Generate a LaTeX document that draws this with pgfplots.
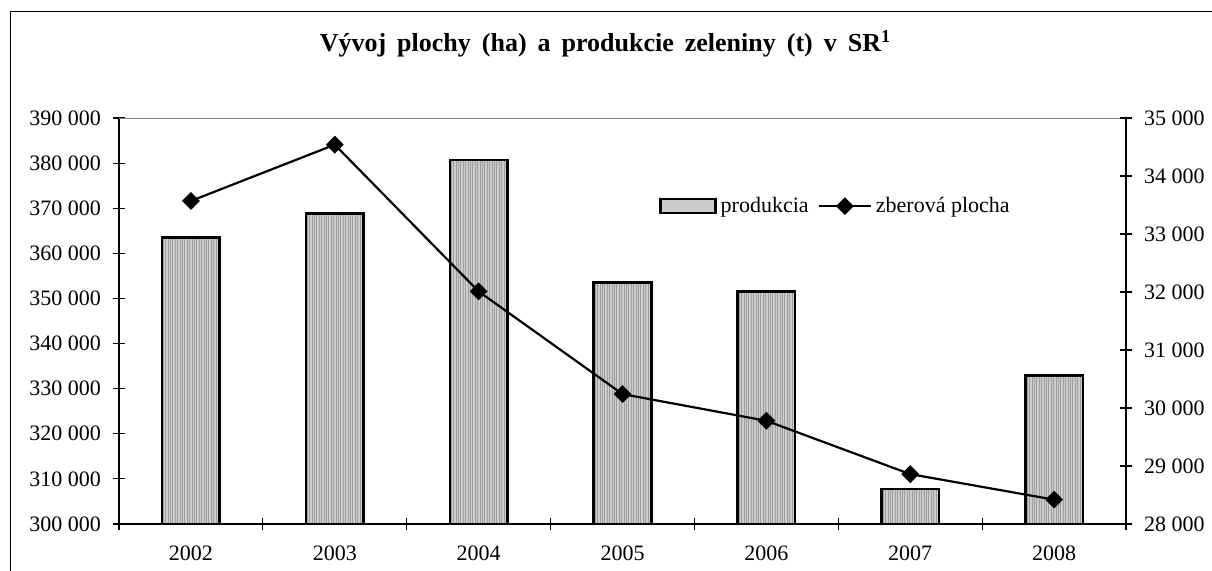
\documentclass[border=0pt]{standalone}
\usepackage{pgfplots}
\pgfplotsset{compat=1.18}
\usepackage{fontspec}
\setmainfont{Liberation Serif}
\usetikzlibrary{patterns.meta}

\definecolor{barfill}{RGB}{205,205,205}
\definecolor{barline}{RGB}{158,158,158}

\pgfplotsset{
  barlegend/.style={legend image code/.code={\draw[##1] (0pt,-3.5pt) rectangle (27.5pt,3.5pt);}},
  linelegend/.style={legend image code/.code={\draw[##1, mark repeat=2, mark phase=2] plot coordinates {(0pt,0pt) (13pt,0pt) (26pt,0pt)};}},
}

\pgfplotstableread{
x  prod    plocha
0  363500  33570
1  368800  34540
2  380650  32010
3  353600  30240
4  351600  29780
5  307800  28860
6  332900  28420
}\datatable

\begin{document}
\begin{tikzpicture}
\useasboundingbox (0,0) rectangle (606pt,285pt);
\draw[line width=0.5pt] (5pt,-10pt) -- (5pt,279.5pt) -- (620pt,279.5pt);
\node[font=\bfseries\fontsize{13}{15}\selectfont, anchor=center] at (302.75pt,263pt)
  {\spaceskip=5.5pt plus 1pt Vývoj plochy (ha) a produkcie zeleniny (t) v SR\textsuperscript{1}};

\begin{axis}[
  at={(59.5pt,23pt)}, anchor=south west,
  scale only axis, width=503.5pt, height=203pt,
  xmin=-0.5, xmax=6.5, ymin=300000, ymax=390000,
  axis x line*=bottom, axis y line*=left,
  xtick={-0.5,0.5,...,6.5}, x tick label as interval,
  xticklabels={2002,2003,2004,2005,2006,2007,2008},
  ytick={300000,310000,...,390000},
  yticklabels={300 000,310 000,320 000,330 000,340 000,350 000,360 000,370 000,380 000,390 000},
  scaled y ticks=false,
  tick align=center, major tick length=6pt,
  tick style={black, line width=0.6pt},
  axis line style={black, line width=0.6pt},
  every tick label/.append style={font=\fontsize{11}{13}\selectfont},
  yticklabel style={xshift=-2.5pt},
  xticklabel style={yshift=-4.5pt},
  legend style={draw=none, fill=none, at={(0.536,0.783)}, anchor=west,
    inner sep=0pt, font=\fontsize{11}{13}\selectfont,
    /tikz/every even column/.append style={column sep=2.5pt}},
  legend columns=2, legend cell align=left,
  clip=true,
]
\draw[gray, line width=0.6pt] (rel axis cs:0,1) -- (rel axis cs:1,1);
\addplot[ybar, bar width=0.4, bar shift=0pt, draw=black, line width=1.3pt,
  fill=barfill, barlegend]
  table[x=x, y=prod] {\datatable};
\addlegendentry{produkcia}
\addplot[ybar, bar width=0.4, bar shift=0pt, draw=black, line width=1.3pt,
  pattern={Lines[angle=90,distance=1.2pt,line width=0.35pt]}, pattern color=barline,
  forget plot]
  table[x=x, y=prod] {\datatable};
\addlegendimage{black, line width=1.1pt, mark=square*, mark size=2.6pt, mark options={rotate=45}, linelegend}
\addlegendentry{zberová plocha}
\end{axis}

\begin{axis}[
  at={(59.5pt,23pt)}, anchor=south west,
  scale only axis, width=503.5pt, height=203pt,
  xmin=-0.5, xmax=6.5, ymin=28000, ymax=35000,
  axis x line=none, axis y line*=right,
  ytick={28000,29000,...,35000},
  yticklabels={28 000,29 000,30 000,31 000,32 000,33 000,34 000,35 000},
  scaled y ticks=false,
  tick align=center, major tick length=6pt,
  tick style={black, line width=0.6pt},
  axis line style={black, line width=0.6pt},
  every tick label/.append style={font=\fontsize{11}{13}\selectfont},
  yticklabel style={xshift=2.5pt},
  clip=false,
]
\addplot[black, line width=1.1pt, mark=square*, mark size=2.6pt, mark options={rotate=45}]
  table[x=x, y=plocha] {\datatable};
\end{axis}
\end{tikzpicture}
\end{document}
